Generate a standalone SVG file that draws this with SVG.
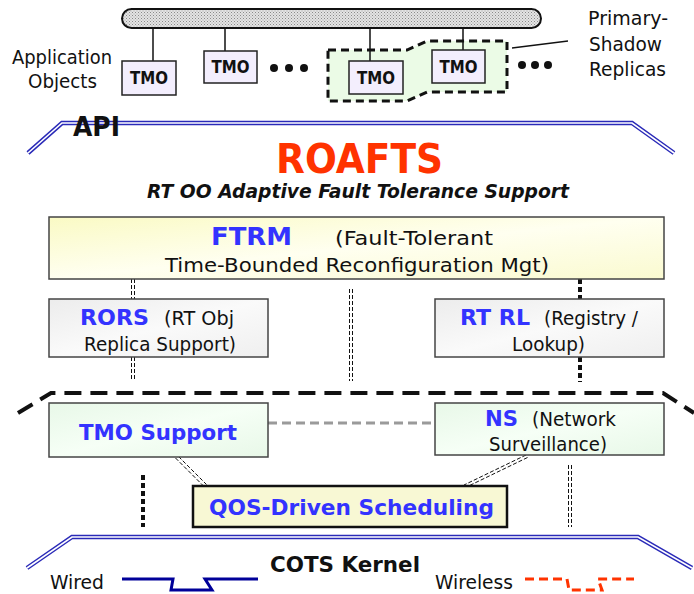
<svg xmlns="http://www.w3.org/2000/svg" width="694" height="594" viewBox="0 0 694 594">
<defs>
<pattern id="dots" width="3" height="3" patternUnits="userSpaceOnUse">
<rect width="3" height="3" fill="#e4e4e4"/>
<rect width="1" height="1" fill="#8a8a8a"/>
<rect x="1.5" y="1.5" width="1" height="1" fill="#a0a0a0"/>
</pattern>
<linearGradient id="gy" x1="0" y1="0" x2="1" y2="1">
<stop offset="0" stop-color="#fafac4"/>
<stop offset="0.5" stop-color="#fffff0"/>
<stop offset="1" stop-color="#fafad0"/>
</linearGradient>
<linearGradient id="gg" x1="0" y1="0" x2="1" y2="1">
<stop offset="0" stop-color="#e8f8e8"/>
<stop offset="0.5" stop-color="#f6fff6"/>
<stop offset="1" stop-color="#e8f8e8"/>
</linearGradient>
<linearGradient id="gr" x1="0" y1="0" x2="1" y2="1">
<stop offset="0" stop-color="#ececec"/>
<stop offset="0.5" stop-color="#fafafa"/>
<stop offset="1" stop-color="#efefef"/>
</linearGradient>
</defs>
<style>
text{font-family:"DejaVu Sans","Liberation Sans",sans-serif;fill:#111}
.lbl{font-size:20px}
.tmo{font-size:17px;font-weight:bold}
.blue{fill:#3333ff;font-weight:bold}
.b{font-weight:bold}
.box{stroke:#444;stroke-width:1.5}
.tmobox{fill:#f3eefd;stroke:#222;stroke-width:1.5}
.stem{stroke:#111;stroke-width:1.5}
.dd{stroke:#111;stroke-width:1;stroke-dasharray:4 2;fill:none}
.thick{stroke:#111;stroke-width:4;stroke-dasharray:5 3;fill:none}
.dblo{stroke:#2a2ab8;stroke-width:4.5;fill:none}
.dbli{stroke:#ffffff;stroke-width:1.6;fill:none}
</style>
<rect width="694" height="594" fill="#fff"/>

<g id="bus">
<rect x="122" y="9" width="419" height="19" rx="9.5" fill="url(#dots)" stroke="#111" stroke-width="2"/>
</g>

<g id="replica-group">
<polygon points="328,50 407,50 427,41 507,41 507,92 427,92 407,101 328,101" fill="#ebfbe6" stroke="#111" stroke-width="3" stroke-dasharray="8 5"/>
</g>

<g id="connectors">
<line class="stem" x1="153" y1="28" x2="153" y2="61"/>
<line class="stem" x1="225" y1="28" x2="225" y2="51"/>
<line class="stem" x1="370" y1="28" x2="370" y2="61"/>
<line class="stem" x1="463" y1="28" x2="463" y2="50"/>
<line class="stem" x1="512" y1="48" x2="568" y2="41"/>
<g fill="#111">
<circle cx="274" cy="68" r="4"/><circle cx="289" cy="68" r="4"/><circle cx="304" cy="68" r="4"/>
<circle cx="522" cy="65" r="4"/><circle cx="535" cy="65" r="4"/><circle cx="548" cy="65" r="4"/>
</g>
<path class="dd" d="M131.5,279V299M134.5,279V299M131.5,357V381M134.5,357V381"/>
<path class="dd" d="M349.5,289V381M352.5,289V381"/>
<path class="thick" d="M580,279V299M580,357V382"/>
<path d="M18,413L51,393H663L694,413" fill="none" stroke="#111" stroke-width="4" stroke-dasharray="17 9"/>
<line x1="268" y1="423" x2="435" y2="423" stroke="#9a9a9a" stroke-width="3" stroke-dasharray="9 5"/>
<path class="dd" d="M175.5,458L203.5,486M178.5,456.5L206.5,484.5"/>
<path class="dd" d="M526,455L464,485M527.5,457.5L465.5,487.5"/>
<path class="thick" d="M143,475V527"/>
<path class="dd" d="M568.5,465V527M571.5,465V527"/>
</g>

<g id="tmo1">
<rect class="tmobox" x="122" y="61" width="54" height="34"/>
<text class="tmo" x="149" y="84" text-anchor="middle" textLength="38" lengthAdjust="spacingAndGlyphs">TMO</text>
</g>
<g id="tmo2">
<rect class="tmobox" x="204" y="51" width="53" height="32"/>
<text class="tmo" x="230.5" y="73" text-anchor="middle" textLength="38" lengthAdjust="spacingAndGlyphs">TMO</text>
</g>
<g id="tmo3">
<rect class="tmobox" x="349" y="61" width="54" height="33"/>
<text class="tmo" x="376" y="84" text-anchor="middle" textLength="38" lengthAdjust="spacingAndGlyphs">TMO</text>
</g>
<g id="tmo4">
<rect class="tmobox" x="432" y="50" width="53" height="33"/>
<text class="tmo" x="458.5" y="73" text-anchor="middle" textLength="38" lengthAdjust="spacingAndGlyphs">TMO</text>
</g>

<g id="labels">
<text class="lbl" x="12" y="64" textLength="100" lengthAdjust="spacingAndGlyphs">Application</text>
<text class="lbl" x="28" y="88" textLength="69" lengthAdjust="spacingAndGlyphs">Objects</text>
<text class="lbl" x="588" y="25" textLength="80" lengthAdjust="spacingAndGlyphs">Primary-</text>
<text class="lbl" x="589" y="51" textLength="73" lengthAdjust="spacingAndGlyphs">Shadow</text>
<text class="lbl" x="589" y="76" textLength="77" lengthAdjust="spacingAndGlyphs">Replicas</text>
</g>

<g id="api">
<path class="dblo" d="M28,153L62,123H632L674,153"/>
<path class="dbli" d="M28,153L62,123H632L674,153"/>
<text class="b" x="73" y="136" font-size="26" textLength="47" lengthAdjust="spacingAndGlyphs">API</text>
</g>

<g id="title">
<text x="359.5" y="173" text-anchor="middle" font-size="40" font-weight="bold" style="fill:#ff3300" textLength="167" lengthAdjust="spacingAndGlyphs">ROAFTS</text>
<text x="358" y="198" text-anchor="middle" font-size="19" font-weight="bold" font-style="italic" textLength="422" lengthAdjust="spacingAndGlyphs">RT OO Adaptive Fault Tolerance Support</text>
</g>

<g id="ftrm">
<rect class="box" x="49" y="217" width="615" height="62" fill="url(#gy)"/>
<text class="blue" x="211" y="245" font-size="25" textLength="81" lengthAdjust="spacingAndGlyphs">FTRM</text>
<text x="335" y="245" font-size="20" textLength="158" lengthAdjust="spacingAndGlyphs">(Fault-Tolerant</text>
<text x="165" y="272" font-size="20" textLength="384" lengthAdjust="spacingAndGlyphs">Time-Bounded Reconfiguration Mgt)</text>
</g>

<g id="rors">
<rect class="box" x="49" y="299" width="219" height="58" fill="url(#gr)"/>
<text class="blue" x="80" y="325" font-size="22" textLength="69" lengthAdjust="spacingAndGlyphs">RORS</text>
<text x="164" y="325" font-size="19" textLength="70" lengthAdjust="spacingAndGlyphs">(RT Obj</text>
<text x="84" y="351" font-size="19" textLength="152" lengthAdjust="spacingAndGlyphs">Replica Support)</text>
</g>

<g id="rtrl">
<rect class="box" x="435" y="299" width="229" height="58" fill="url(#gr)"/>
<text class="blue" x="460" y="325" font-size="22" textLength="70" lengthAdjust="spacingAndGlyphs">RT RL</text>
<text x="544" y="325" font-size="19" textLength="94" lengthAdjust="spacingAndGlyphs">(Registry /</text>
<text x="512" y="351" font-size="19" textLength="73" lengthAdjust="spacingAndGlyphs">Lookup)</text>
</g>

<g id="tmo-support">
<rect class="box" x="49" y="403" width="219" height="54" fill="url(#gg)"/>
<text class="blue" x="79" y="440" font-size="22" textLength="158" lengthAdjust="spacingAndGlyphs">TMO Support</text>
</g>

<g id="ns">
<rect class="box" x="435" y="403" width="229" height="52" fill="url(#gg)"/>
<text class="blue" x="485" y="426" font-size="22" textLength="33" lengthAdjust="spacingAndGlyphs">NS</text>
<text x="532" y="426" font-size="19" textLength="84" lengthAdjust="spacingAndGlyphs">(Network</text>
<text x="489" y="451" font-size="19" textLength="118" lengthAdjust="spacingAndGlyphs">Surveillance)</text>
</g>

<g id="qos">
<rect x="193" y="486" width="314" height="41" fill="#f8f8d4" stroke="#111" stroke-width="2.5"/>
<text class="blue" x="209" y="515" font-size="22" textLength="285" lengthAdjust="spacingAndGlyphs">QOS-Driven Scheduling</text>
</g>

<g id="cots">
<path class="dblo" d="M27,568L72,537H638L692,568"/>
<path class="dbli" d="M27,568L72,537H638L692,568"/>
<text class="b" x="270" y="572" font-size="22" textLength="150" lengthAdjust="spacingAndGlyphs">COTS Kernel</text>
</g>

<g id="legend">
<text class="lbl" x="50" y="589" textLength="54" lengthAdjust="spacingAndGlyphs">Wired</text>
<path d="M122,579H173L171,590H212L205,579H258" fill="none" stroke="#000099" stroke-width="3"/>
<text class="lbl" x="435" y="589" textLength="78" lengthAdjust="spacingAndGlyphs">Wireless</text>
<path d="M525,579H567L569,590H602L598,579H634" fill="none" stroke="#ff3300" stroke-width="3" stroke-dasharray="9 5"/>
</g>
</svg>
